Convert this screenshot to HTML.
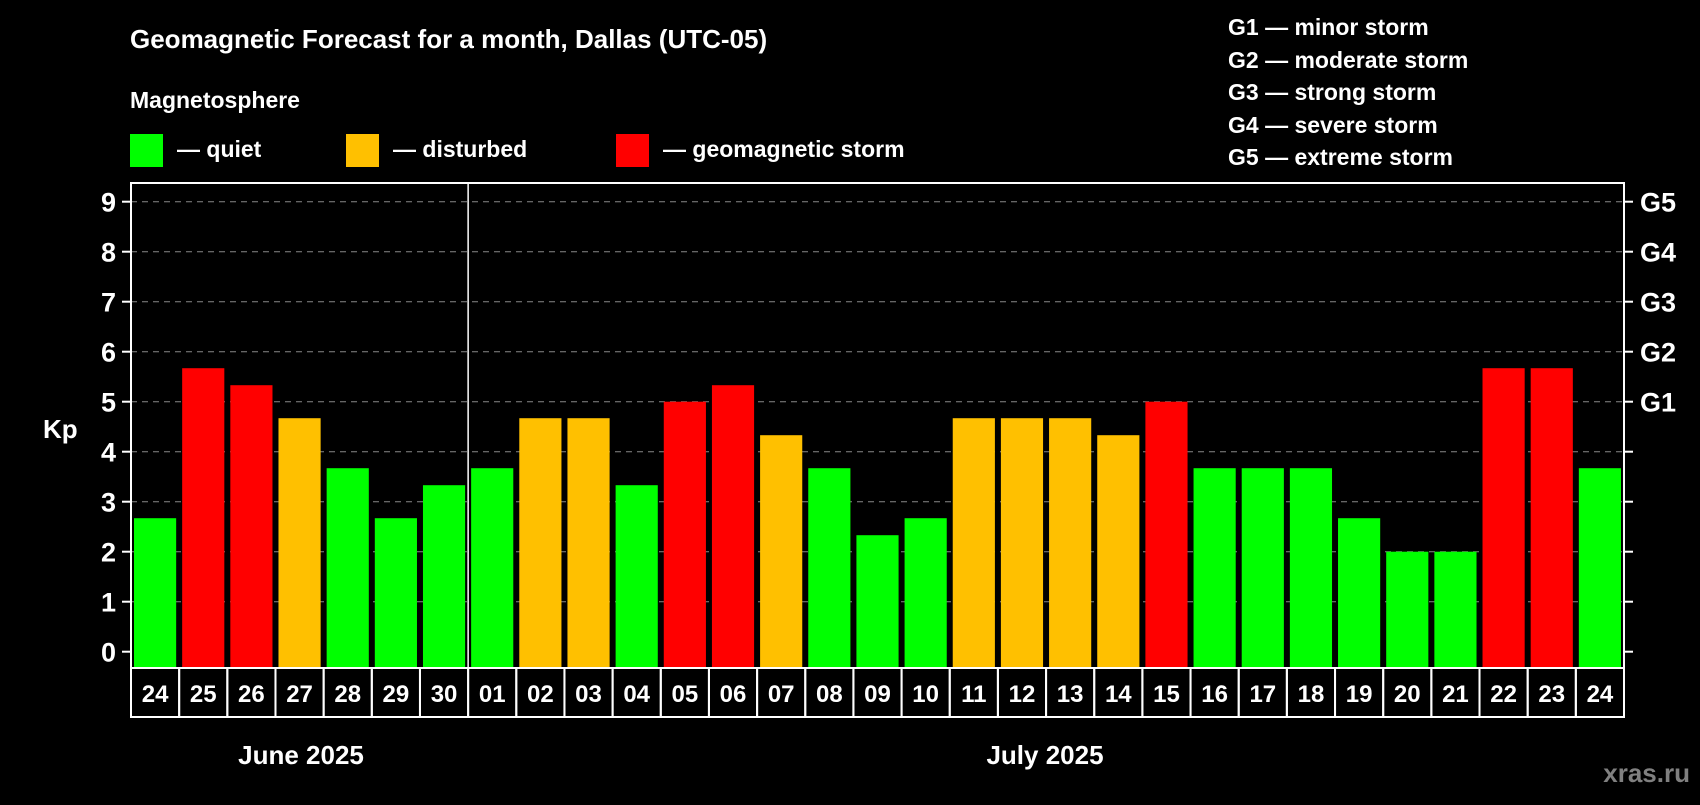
<!DOCTYPE html>
<html><head><meta charset="utf-8"><style>
body{margin:0;background:#000;width:1700px;height:800px;overflow:hidden;font-family:"Liberation Sans",Arial,sans-serif}
svg text{font-family:"Liberation Sans",Arial,sans-serif;font-weight:bold;fill:#fff}
</style></head><body>
<svg id="chart" width="1700" height="800">
<text x="130" y="48" font-size="26">Geomagnetic Forecast for a month, Dallas (UTC-05)</text>
<text x="130" y="108" font-size="23">Magnetosphere</text>
<g><rect x="130" y="134" width="33" height="33" fill="#00ff00"/><text x="177" y="157" font-size="23">— quiet</text></g>
<g><rect x="346" y="134" width="33" height="33" fill="#ffc000"/><text x="393" y="157" font-size="23">— disturbed</text></g>
<g><rect x="616" y="134" width="33" height="33" fill="#ff0000"/><text x="663" y="157" font-size="23">— geomagnetic storm</text></g>
<g font-size="23">
<text x="1228" y="35">G1 — minor storm</text><text x="1228" y="68">G2 — moderate storm</text><text x="1228" y="100">G3 — strong storm</text><text x="1228" y="133">G4 — severe storm</text><text x="1228" y="165">G5 — extreme storm</text></g>
<text x="43" y="438" font-size="26">Kp</text>
<text x="301" y="764" font-size="26" text-anchor="middle">June 2025</text>
<text x="1045" y="764" font-size="26" text-anchor="middle">July 2025</text>
<text x="1690" y="782" font-size="26" text-anchor="end" style="fill:#808080">xras.ru</text>
<g id="plot"></g>
</svg>
<script>
const days=["24","25","26","27","28","29","30","01","02","03","04","05","06","07","08","09","10","11","12","13","14","15","16","17","18","19","20","21","22","23","24"];
const kpValues=[2.67,5.67,5.33,4.67,3.67,2.67,3.33,3.67,4.67,4.67,3.33,5,5.33,4.33,3.67,2.33,2.67,4.67,4.67,4.67,4.33,5,3.67,3.67,3.67,2.67,2,2,5.67,5.67,3.67];
const yTicks=[0,1,2,3,4,5,6,7,8,9];
const gLabels=["G1","G2","G3","G4","G5"];
const gLevels=[5,6,7,8,9];
const L=131,R=1624,T=183,B=668,n=days.length,slot=(R-L)/n;
const y=v=>651.7-v*50;
const xs=i=>L+i*slot;
const NS="http://www.w3.org/2000/svg";
const g=document.getElementById('plot');
function mk(t,a){const e=document.createElementNS(NS,t);for(const k in a)e.setAttribute(k,a[k]);g.appendChild(e);return e;}
yTicks.forEach(v=>{
 if(v>0){const l=mk('line',{x1:L,x2:R,y1:y(v),y2:y(v),stroke:'#888','stroke-dasharray':'6,5','stroke-width':1});
 
 }
 const t1=mk('line',{x1:L-9,x2:L,y1:y(v),y2:y(v),stroke:'#fff','stroke-width':2});
 
 
 const t2=mk('line',{x1:R,x2:R+9,y1:y(v),y2:y(v),stroke:'#fff','stroke-width':2});
 
 
 const tx=mk('text',{x:116,y:y(v)+10,'font-size':27,'text-anchor':'end'});tx.textContent=v;
 
 
});
gLabels.forEach((s,i)=>{const tx=mk('text',{x:1640,y:y(gLevels[i])+10,'font-size':27});tx.textContent=s;
 
 });
kpValues.forEach((v,i)=>{
 const c=v>=5?'#ff0000':(v>=4?'#ffc000':'#00ff00');
 const r=mk('rect',{x:xs(i)+3,y:y(v),width:slot-6,height:B-y(v),fill:c});
 
 
 const cell=mk('rect',{x:xs(i),y:B,width:slot,height:49,fill:'none',stroke:'#fff','stroke-width':2});
 
 
 const tx=mk('text',{x:xs(i)+slot/2,y:B+34,'font-size':24,'text-anchor':'middle'});tx.textContent=days[i];
 
 
});
const fr=mk('rect',{x:L,y:T,width:R-L,height:B-T,fill:'none',stroke:'#fff','stroke-width':2});


const dv=mk('line',{x1:xs(7),x2:xs(7),y1:T,y2:B,stroke:'#fff','stroke-width':1.5});


</script>
</body></html>
